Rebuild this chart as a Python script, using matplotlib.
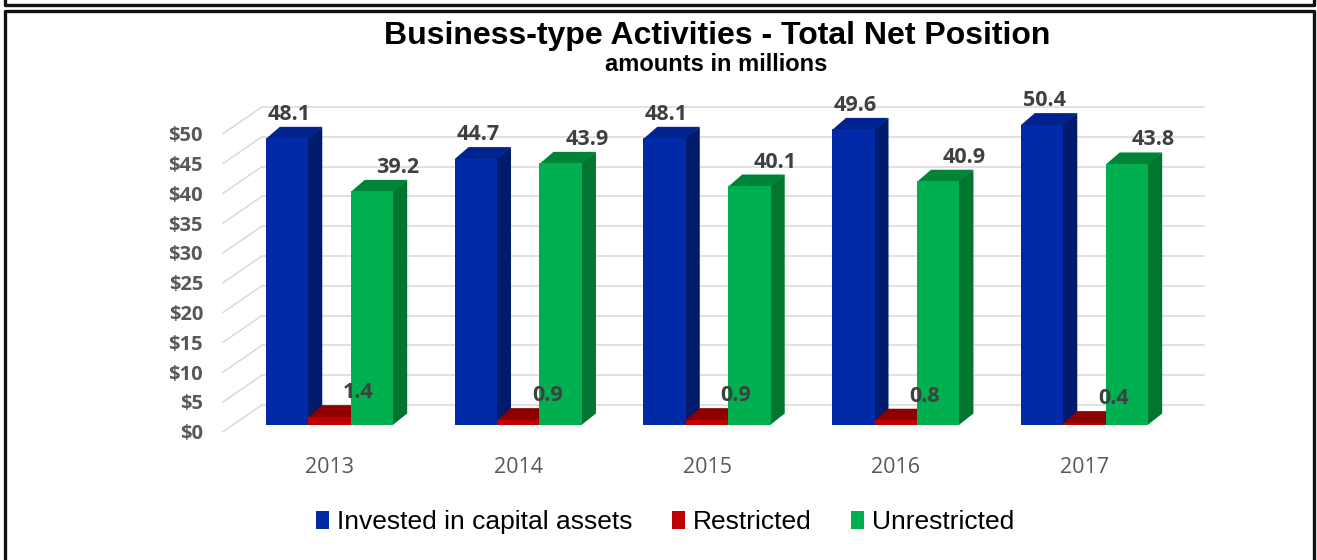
import matplotlib
matplotlib.use("Agg")
import matplotlib.pyplot as plt
from matplotlib.patches import Polygon, Patch
from matplotlib.lines import Line2D

years = ["2013", "2014", "2015", "2016", "2017"]
series = ["Invested in capital assets", "Restricted", "Unrestricted"]
invested = [48.1, 44.7, 48.1, 49.6, 50.4]
restricted = [1.4, 0.9, 0.9, 0.8, 0.4]
unrestricted = [39.2, 43.9, 40.1, 40.9, 43.8]
yticks = [0, 5, 10, 15, 20, 25, 30, 35, 40, 45, 50]

# face colours: front, side, top
colors = [("#012AA8", "#011B6C", "#01238F"),
          ("#C00000", "#860000", "#8E0000"),
          ("#00B050", "#00752F", "#008538")]
label_dx = [0.011, 0.154, 0.138]

W, H = 1317, 560
cx0, step = 329.5, 188.75      # px of category 0 centre, px per category
by0, scale = 425.0, 5.96       # px of value 0 (from top), px per unit
xlim = (-1.0, 4.8)
ylim = (-3.0, 56.0)

fig = plt.figure(figsize=(W / 100, H / 100), dpi=100)
left = cx0 + xlim[0] * step
right = cx0 + xlim[1] * step
bot = by0 - ylim[0] * scale
top = by0 - ylim[1] * scale
ax = fig.add_axes([left / W, 1 - bot / H, (right - left) / W, (bot - top) / H])
ax.set_xlim(*xlim)
ax.set_ylim(*ylim)
ax.axis("off")

w = 0.225
ddx, ddy = 14 / step, 11.5 / scale
wall_dy, floor_dy = 3.36, -1.12
wall_x0, wall_x1, front_x = -0.358, 4.634, -0.564
grid_c = "#D9D9D9"
lab_font = "Open Sans"

# back wall gridlines and left wall diagonals
for t in yticks:
    ax.plot([wall_x0, wall_x1], [t + wall_dy, t + wall_dy], color=grid_c, lw=1.1, zorder=1)
    ax.plot([front_x, wall_x0], [t + floor_dy, t + wall_dy], color=grid_c, lw=1.1, zorder=1)
    ax.text(-0.670, t + floor_dy - 1.26, "$" + str(t), ha="right", va="baseline",
            fontsize=14.5, fontweight="bold", color="#595959", family=lab_font)

data = [invested, restricted, unrestricted]
for i, yr in enumerate(years):
    for k in range(3):
        v = data[k][i]
        x0 = i + (k - 1.5) * w
        front, side, topc = colors[k]
        z = 2 + i * 3 + k
        ax.add_patch(Polygon([(x0 + w - 0.003, 0), (x0 + w + ddx, ddy), (x0 + w + ddx, v + ddy),
                              (x0 + w - 0.003, v)],
                             closed=True, facecolor=side, edgecolor="none", zorder=z))
        ax.add_patch(Polygon([(x0, v - 0.1), (x0 + ddx, v + ddy), (x0 + w + ddx, v + ddy), (x0 + w, v - 0.1)],
                             closed=True, facecolor=topc, edgecolor="none", zorder=z))
        ax.bar(x0, v, width=w, align="edge", color=front, edgecolor="none", zorder=z)
        ax.text(x0 + w / 2 + label_dx[k], v + 3.1, f"{v:.1f}", ha="center", va="baseline",
                fontsize=15.5, fontweight="bold", color="#404040", family=lab_font, zorder=30)
    ax.text(i, -7.97, yr, ha="center", va="baseline", fontsize=15.5, color="#595959", family=lab_font)

fig.text(717 / W, 1 - 44 / H, "Business-type Activities - Total Net Position", ha="center",
         va="baseline", fontsize=23, fontweight="bold", family="Liberation Sans")
fig.text(716 / W, 1 - 71 / H, "amounts in millions", ha="center", va="baseline",
         fontsize=17, fontweight="bold", family="Liberation Sans")

handles = [Patch(facecolor=c[0], edgecolor="none") for c in colors]
fig.legend(handles, series, loc="center", bbox_to_anchor=(665 / W, 1 - 522 / H), ncol=3,
           frameon=False, prop={"family": "Liberation Sans", "size": 19},
           handlelength=0.5, handleheight=0.7, handletextpad=0.3, columnspacing=1.5)

# frame borders
def fline(xs, ys):
    fig.add_artist(Line2D([x / W for x in xs], [1 - y / H for y in ys], color="#111111",
                          lw=2.4, transform=fig.transFigure))

fline([5, 5, 1314, 1314], [0, 5, 5, 0])
fline([5, 5, 1314, 1314], [H, 11, 11, H])

fig.savefig("out.png", dpi=100)
